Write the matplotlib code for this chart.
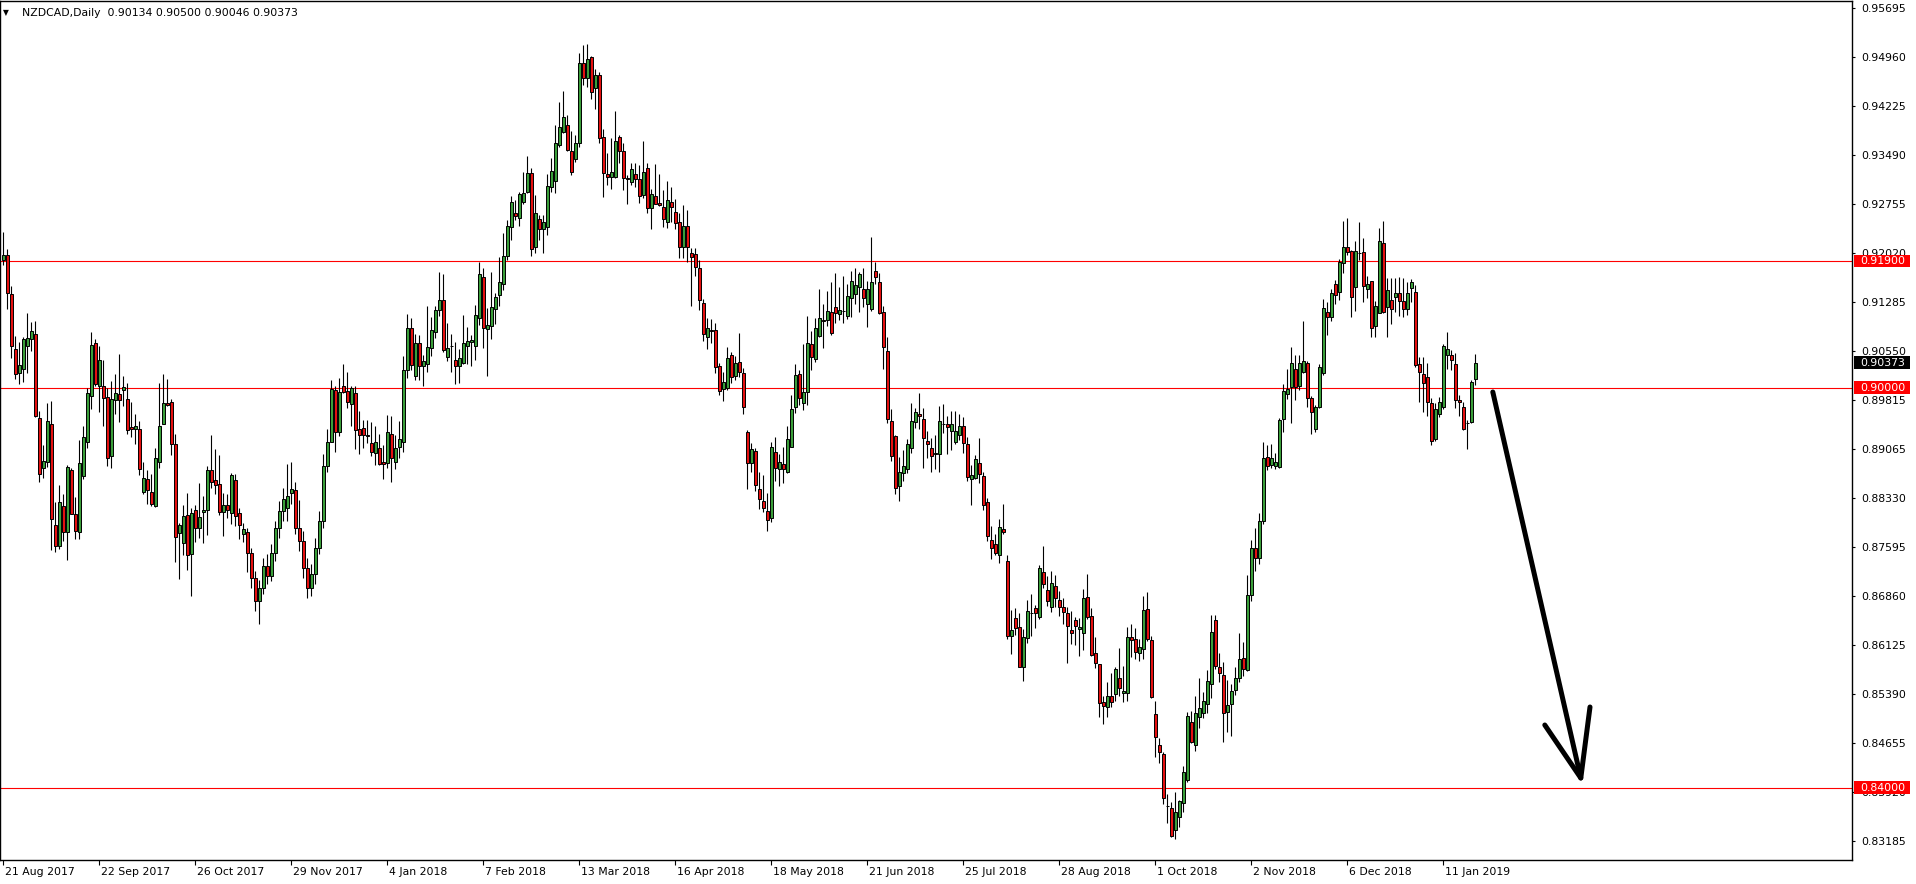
import matplotlib
matplotlib.use("Agg")
import matplotlib.pyplot as plt
import matplotlib.transforms as mtransforms
from matplotlib.patches import Rectangle
import numpy as np

# NZDCAD daily candles, 21 Aug 2017 .. 24 Jan 2019
opens = [
    0.91915, 0.91990, 0.91405, 0.90575, 0.90215, 0.90275, 0.90630, 0.90725, 0.90800, 0.89540,
    0.88790, 0.88880, 0.89460, 0.87940, 0.87630, 0.88220, 0.87840, 0.88760, 0.88100, 0.87840,
    0.88670, 0.89180, 0.89880, 0.90670, 0.90020, 0.90020, 0.89860, 0.88980, 0.89810, 0.89910,
    0.89970, 0.89830, 0.89410, 0.89380, 0.89380, 0.88440, 0.88630, 0.88440, 0.88220, 0.88890,
    0.89460, 0.89770, 0.89780, 0.89150, 0.87820, 0.87670, 0.88090, 0.87500, 0.88170, 0.87890,
    0.88130, 0.88170, 0.88770, 0.88620, 0.88550, 0.88130, 0.88240, 0.88120, 0.88620, 0.88120,
    0.87810, 0.87840, 0.87520, 0.87150, 0.86800, 0.87000, 0.87320, 0.87180, 0.87520, 0.87900,
    0.88150, 0.88200, 0.88420, 0.88460, 0.87900, 0.87700, 0.87300, 0.87000, 0.87200, 0.87600,
    0.88000, 0.88820, 0.89190, 0.89970, 0.89330, 0.90030, 0.89950, 0.89760, 0.89920, 0.89380,
    0.89390, 0.89290, 0.89170, 0.89020, 0.89090, 0.88880, 0.88870, 0.89300, 0.88880, 0.89110,
    0.89190, 0.90270, 0.90890, 0.90180, 0.90670, 0.90320, 0.90350, 0.90590, 0.90830, 0.91170,
    0.91320, 0.90460, 0.90630, 0.90420, 0.90320, 0.90370, 0.90620, 0.90680, 0.90620, 0.91040,
    0.91660, 0.90880, 0.90930, 0.91180, 0.91390, 0.91550, 0.91970, 0.92410, 0.92620, 0.92550,
    0.92780, 0.92930, 0.93220, 0.92115, 0.92535, 0.92380, 0.92415, 0.93015, 0.93105, 0.93640,
    0.93840, 0.93935, 0.93545, 0.93425, 0.93665, 0.94865, 0.94650, 0.94965, 0.94490, 0.94685,
    0.93755, 0.93205, 0.93155, 0.93165, 0.93755, 0.93555, 0.93140, 0.93080, 0.93200, 0.93135,
    0.92890, 0.93290, 0.92690, 0.92875, 0.92775, 0.92705, 0.92490, 0.92790, 0.92630, 0.92490,
    0.92105, 0.92430, 0.92015, 0.92000, 0.91790, 0.91265, 0.90755, 0.90865, 0.90865, 0.90325,
    0.89975, 0.89990, 0.90490, 0.90180, 0.90380, 0.90215, 0.89330, 0.88875, 0.89050, 0.88475,
    0.88300, 0.88150, 0.88040, 0.89030, 0.88775, 0.88850, 0.88740, 0.89115, 0.89705, 0.90200,
    0.89765, 0.89940, 0.90655, 0.90425, 0.90775, 0.91015, 0.91015, 0.91130, 0.91205, 0.91100,
    0.91155, 0.91080, 0.91350, 0.91400, 0.91515, 0.91475, 0.91250, 0.91185, 0.91755, 0.91590,
    0.91140, 0.90555, 0.89505, 0.89280, 0.88530, 0.88715, 0.88775, 0.89090, 0.89480, 0.89605,
    0.89525, 0.89205, 0.89100, 0.89000, 0.89000, 0.89450, 0.89450, 0.89355, 0.89190, 0.89290,
    0.89425, 0.89150, 0.88625, 0.88650, 0.88865, 0.88675, 0.88280, 0.87715, 0.87655, 0.87490,
    0.87880, 0.87400, 0.86280, 0.86540, 0.86410, 0.85815, 0.86240, 0.86625, 0.86690, 0.86565,
    0.87230, 0.86965, 0.86715, 0.87025, 0.86815, 0.86705, 0.86615, 0.86365, 0.86520, 0.86375,
    0.86325, 0.86855, 0.86575, 0.86015, 0.85850, 0.85280, 0.85205, 0.85375, 0.85405, 0.85640,
    0.85415, 0.85415, 0.86255, 0.86230, 0.86025, 0.86080, 0.86675, 0.86215, 0.85100, 0.84640,
    0.84500, 0.83725, 0.83690, 0.83365, 0.83555, 0.83765, 0.84115, 0.84980, 0.84640, 0.85065,
    0.85115, 0.85255, 0.85550, 0.86515, 0.85805, 0.85690, 0.85130, 0.85255, 0.85465, 0.85640,
    0.85940, 0.85765, 0.86890, 0.87600, 0.87450, 0.88000, 0.88960, 0.88840, 0.88830, 0.88815,
    0.89525, 0.89900, 0.90015, 0.90275, 0.90030, 0.90240, 0.90365, 0.89850, 0.89375, 0.89715,
    0.90225, 0.91130, 0.91065, 0.91555, 0.91430, 0.91875, 0.92105, 0.92050, 0.91515, 0.92015,
    0.92030, 0.91475, 0.91600, 0.90930, 0.91115, 0.92165, 0.91205, 0.91315, 0.91365, 0.91415,
    0.91300, 0.91175, 0.91490, 0.91430, 0.90350, 0.90205, 0.90165, 0.89775, 0.89225, 0.89605,
    0.89705, 0.90490, 0.90490, 0.90350, 0.89815, 0.89715, 0.89475, 0.89480, 0.90134,
]
highs = [
    0.92340, 0.92075, 0.91530, 0.90775, 0.90690, 0.90765, 0.91115, 0.90985, 0.91000, 0.89650,
    0.89140, 0.89770, 0.89800, 0.88290, 0.88540, 0.88410, 0.88840, 0.88800, 0.88360, 0.89210,
    0.89430, 0.90000, 0.90840, 0.90730, 0.90620, 0.90420, 0.89990, 0.90100, 0.90210, 0.90510,
    0.90180, 0.90070, 0.89780, 0.89610, 0.89500, 0.88890, 0.88760, 0.88710, 0.89090, 0.90070,
    0.90210, 0.90130, 0.89830, 0.89300, 0.87970, 0.88240, 0.88420, 0.88190, 0.88240, 0.88570,
    0.88370, 0.88830, 0.89290, 0.89080, 0.88990, 0.88420, 0.88410, 0.88720, 0.88710, 0.88190,
    0.87970, 0.87890, 0.87600, 0.87250, 0.87120, 0.87450, 0.87500, 0.87650, 0.88000, 0.88300,
    0.88500, 0.88860, 0.88880, 0.88590, 0.88320, 0.87850, 0.87450, 0.87350, 0.87750, 0.88150,
    0.89010, 0.89380, 0.90120, 0.90030, 0.90140, 0.90350, 0.90240, 0.90030, 0.90030, 0.89650,
    0.89520, 0.89510, 0.89480, 0.89420, 0.89310, 0.89140, 0.89590, 0.89580, 0.89290, 0.89500,
    0.90480, 0.91110, 0.91040, 0.90810, 0.90790, 0.90490, 0.91230, 0.91060, 0.91230, 0.91730,
    0.91700, 0.90970, 0.90810, 0.90680, 0.90580, 0.91090, 0.90910, 0.90790, 0.91240, 0.91890,
    0.91790, 0.91200, 0.91730, 0.91420, 0.91960, 0.92320, 0.92520, 0.92870, 0.92820, 0.92930,
    0.93240, 0.93480, 0.93290, 0.92890, 0.92590, 0.92590, 0.93205, 0.93440, 0.93940, 0.94290,
    0.94450, 0.94090, 0.93850, 0.93790, 0.95025, 0.95140, 0.95155, 0.94975, 0.94780, 0.94740,
    0.93880, 0.93515, 0.93740, 0.94150, 0.93790, 0.93665, 0.93190, 0.93365, 0.93365, 0.93340,
    0.93700, 0.93375, 0.92975, 0.93355, 0.93205, 0.92965, 0.93100, 0.93005, 0.92830, 0.92615,
    0.92740, 0.92665, 0.92090, 0.92090, 0.91915, 0.91325, 0.91050, 0.91025, 0.90965, 0.90365,
    0.90240, 0.90615, 0.90540, 0.90475, 0.90815, 0.90290, 0.89365, 0.89165, 0.89090, 0.88730,
    0.88690, 0.88415, 0.89180, 0.89255, 0.89000, 0.89105, 0.89425, 0.89890, 0.90355, 0.90265,
    0.90655, 0.91075, 0.90850, 0.91050, 0.91480, 0.91255, 0.91450, 0.91580, 0.91725, 0.91505,
    0.91675, 0.91550, 0.91750, 0.91790, 0.91740, 0.91790, 0.91600, 0.92255, 0.91890, 0.91715,
    0.91230, 0.90755, 0.89675, 0.89290, 0.88955, 0.89065, 0.89230, 0.89775, 0.89700, 0.89925,
    0.89690, 0.89350, 0.89250, 0.89290, 0.89730, 0.89755, 0.89575, 0.89650, 0.89650, 0.89605,
    0.89565, 0.89255, 0.88840, 0.88990, 0.89240, 0.88730, 0.88340, 0.87930, 0.87800, 0.88030,
    0.88255, 0.87490, 0.86665, 0.86690, 0.86625, 0.86375, 0.86815, 0.86900, 0.86740, 0.87340,
    0.87625, 0.87180, 0.87250, 0.87190, 0.86950, 0.86840, 0.86705, 0.86655, 0.86565, 0.86540,
    0.86975, 0.87200, 0.86690, 0.86255, 0.85850, 0.85380, 0.85590, 0.85715, 0.85815, 0.86090,
    0.85825, 0.86405, 0.86450, 0.86390, 0.86225, 0.86880, 0.86930, 0.86275, 0.85300, 0.84740,
    0.84540, 0.83905, 0.83790, 0.83930, 0.83815, 0.84330, 0.85140, 0.85150, 0.85375, 0.85640,
    0.85440, 0.85765, 0.86590, 0.86590, 0.86025, 0.85890, 0.85615, 0.85550, 0.85815, 0.86315,
    0.86190, 0.87190, 0.87720, 0.87900, 0.88120, 0.89180, 0.89140, 0.89155, 0.89015, 0.89540,
    0.90050, 0.90275, 0.90615, 0.90490, 0.90490, 0.91000, 0.90405, 0.89875, 0.89740, 0.90350,
    0.91330, 0.91280, 0.91475, 0.91615, 0.91925, 0.92500, 0.92540, 0.92065, 0.92205, 0.92490,
    0.92240, 0.91675, 0.91600, 0.91300, 0.92390, 0.92500, 0.91640, 0.91640, 0.91650, 0.91655,
    0.91640, 0.91590, 0.91630, 0.91540, 0.90465, 0.90465, 0.90365, 0.89840, 0.89765, 0.89865,
    0.90655, 0.90830, 0.90565, 0.90515, 0.89890, 0.89790, 0.89515, 0.90115, 0.90500,
]
lows = [
    0.91840, 0.91175, 0.90440, 0.90130, 0.90050, 0.90090, 0.90215, 0.90555, 0.89560, 0.88590,
    0.88640, 0.88810, 0.87560, 0.87540, 0.87580, 0.87700, 0.87410, 0.88100, 0.87730, 0.87730,
    0.88630, 0.89090, 0.89680, 0.90030, 0.89630, 0.89430, 0.88830, 0.88790, 0.89610, 0.89490,
    0.89720, 0.89310, 0.89260, 0.89150, 0.88690, 0.88400, 0.88260, 0.88230, 0.88210, 0.88790,
    0.89450, 0.89720, 0.88990, 0.87390, 0.87130, 0.87490, 0.87270, 0.86870, 0.87690, 0.87740,
    0.87670, 0.87790, 0.88490, 0.88410, 0.88090, 0.87780, 0.88040, 0.87960, 0.87930, 0.87730,
    0.87680, 0.87240, 0.87000, 0.86650, 0.86450, 0.86900, 0.87050, 0.87100, 0.87400, 0.87750,
    0.88000, 0.88000, 0.88250, 0.87800, 0.87550, 0.87150, 0.86850, 0.86880, 0.87050, 0.87500,
    0.87900, 0.88740, 0.89190, 0.89030, 0.89270, 0.89920, 0.89690, 0.89430, 0.89080, 0.89000,
    0.89090, 0.89170, 0.88980, 0.88840, 0.88840, 0.88630, 0.88790, 0.88580, 0.88780, 0.88950,
    0.89040, 0.90140, 0.90270, 0.90120, 0.90110, 0.90020, 0.90230, 0.90470, 0.90750, 0.91080,
    0.90530, 0.90400, 0.90240, 0.90060, 0.90070, 0.90360, 0.90360, 0.90320, 0.90420, 0.90940,
    0.90590, 0.90170, 0.90730, 0.90960, 0.91230, 0.91470, 0.91920, 0.92220, 0.92510, 0.92430,
    0.92760, 0.92920, 0.91980, 0.92025, 0.92215, 0.92025, 0.92290, 0.92935, 0.92925, 0.93615,
    0.93825, 0.93555, 0.93190, 0.93385, 0.93615, 0.94540, 0.94505, 0.94330, 0.94180, 0.93675,
    0.92865, 0.93040, 0.92975, 0.93140, 0.93365, 0.92965, 0.92755, 0.93040, 0.93015, 0.92775,
    0.92840, 0.92625, 0.92375, 0.92750, 0.92725, 0.92415, 0.92400, 0.92490, 0.92375, 0.91940,
    0.91940, 0.91880, 0.91230, 0.91675, 0.91165, 0.90700, 0.90580, 0.90665, 0.90215, 0.89890,
    0.89800, 0.89965, 0.90065, 0.90115, 0.90155, 0.89605, 0.88475, 0.88740, 0.88455, 0.88180,
    0.88140, 0.87855, 0.87990, 0.88605, 0.88520, 0.88575, 0.88715, 0.89115, 0.89625, 0.89740,
    0.89665, 0.89740, 0.90265, 0.90390, 0.90765, 0.90600, 0.90925, 0.90790, 0.90965, 0.91015,
    0.90975, 0.91030, 0.91065, 0.91255, 0.91130, 0.91215, 0.90915, 0.91155, 0.91555, 0.91105,
    0.90280, 0.89475, 0.88905, 0.88405, 0.88300, 0.88605, 0.88725, 0.89025, 0.89390, 0.89375,
    0.88800, 0.88940, 0.88740, 0.88775, 0.88740, 0.89315, 0.89000, 0.89060, 0.89155, 0.89215,
    0.89025, 0.88605, 0.88240, 0.88625, 0.88565, 0.88165, 0.87705, 0.87425, 0.87490, 0.87375,
    0.87805, 0.86230, 0.86005, 0.86290, 0.85815, 0.85605, 0.86165, 0.86275, 0.86400, 0.86530,
    0.87000, 0.86725, 0.86630, 0.86705, 0.86570, 0.86455, 0.85875, 0.86155, 0.86140, 0.85975,
    0.86065, 0.86525, 0.85975, 0.85790, 0.85065, 0.84950, 0.85065, 0.85215, 0.85305, 0.85380,
    0.85290, 0.85300, 0.85955, 0.85930, 0.85900, 0.85930, 0.86200, 0.85350, 0.84465, 0.84365,
    0.83755, 0.83475, 0.83265, 0.83225, 0.83405, 0.83640, 0.84090, 0.84665, 0.84555, 0.84900,
    0.85050, 0.85125, 0.85350, 0.85775, 0.85590, 0.84680, 0.84830, 0.84780, 0.85390, 0.85590,
    0.85670, 0.85755, 0.86800, 0.87250, 0.87350, 0.87950, 0.88765, 0.88790, 0.88775, 0.88800,
    0.89340, 0.89825, 0.89475, 0.89815, 0.89965, 0.90225, 0.89715, 0.89300, 0.89330, 0.89690,
    0.90190, 0.90790, 0.91000, 0.91250, 0.91315, 0.91725, 0.91990, 0.91065, 0.91150, 0.91915,
    0.91280, 0.91340, 0.90755, 0.90755, 0.91115, 0.91125, 0.90755, 0.90950, 0.91140, 0.91075,
    0.91065, 0.91090, 0.91290, 0.90315, 0.89790, 0.89640, 0.89575, 0.89140, 0.89205, 0.89555,
    0.89680, 0.90275, 0.90265, 0.89690, 0.89575, 0.89365, 0.89075, 0.89465, 0.90046,
]
closes = [
    0.91990, 0.91415, 0.90630, 0.90200, 0.90340, 0.90730, 0.90740, 0.90850, 0.89580, 0.88700,
    0.88900, 0.89500, 0.88030, 0.87630, 0.88280, 0.87840, 0.88810, 0.88110, 0.87850, 0.88870,
    0.89260, 0.89920, 0.90640, 0.90060, 0.90420, 0.89840, 0.88940, 0.89830, 0.89920, 0.89810,
    0.90010, 0.89360, 0.89380, 0.89420, 0.88780, 0.88640, 0.88460, 0.88260, 0.88940, 0.89420,
    0.89770, 0.89740, 0.89150, 0.87760, 0.87940, 0.88080, 0.87490, 0.88120, 0.87890, 0.88060,
    0.88170, 0.88770, 0.88590, 0.88540, 0.88130, 0.88240, 0.88170, 0.88690, 0.88070, 0.87940,
    0.87880, 0.87520, 0.87150, 0.86800, 0.87000, 0.87320, 0.87180, 0.87520, 0.87900, 0.88150,
    0.88330, 0.88370, 0.88480, 0.87900, 0.87700, 0.87300, 0.87000, 0.87200, 0.87600, 0.88000,
    0.88830, 0.89180, 0.89980, 0.89330, 0.89930, 0.89940, 0.89780, 0.89990, 0.89370, 0.89290,
    0.89290, 0.89270, 0.89030, 0.89190, 0.88860, 0.88860, 0.89330, 0.88950, 0.89090, 0.89230,
    0.90270, 0.90890, 0.90340, 0.90670, 0.90330, 0.90400, 0.90610, 0.90870, 0.91170, 0.91320,
    0.90570, 0.90590, 0.90630, 0.90320, 0.90450, 0.90670, 0.90700, 0.90720, 0.91090, 0.91700,
    0.90890, 0.90940, 0.91210, 0.91360, 0.91590, 0.91970, 0.92430, 0.92780, 0.92570, 0.92900,
    0.92920, 0.93220, 0.92080, 0.92615, 0.92385, 0.92490, 0.93025, 0.93245, 0.93665, 0.93905,
    0.94055, 0.93565, 0.93240, 0.93665, 0.94865, 0.94640, 0.94925, 0.94440, 0.94690, 0.93750,
    0.93215, 0.93165, 0.93240, 0.93700, 0.93555, 0.93140, 0.93125, 0.93275, 0.93135, 0.92880,
    0.93230, 0.92690, 0.92900, 0.92750, 0.92745, 0.92525, 0.92815, 0.92705, 0.92475, 0.92115,
    0.92430, 0.92115, 0.91965, 0.91815, 0.91315, 0.90800, 0.90890, 0.90850, 0.90315, 0.89955,
    0.90090, 0.90440, 0.90155, 0.90365, 0.90240, 0.89715, 0.88875, 0.89075, 0.88540, 0.88325,
    0.88200, 0.88015, 0.89105, 0.88790, 0.88880, 0.88775, 0.89225, 0.89675, 0.90185, 0.89840,
    0.89940, 0.90665, 0.90465, 0.90890, 0.91050, 0.91005, 0.91155, 0.90825, 0.91125, 0.91165,
    0.91155, 0.91380, 0.91605, 0.91535, 0.91700, 0.91340, 0.91475, 0.91580, 0.91665, 0.91125,
    0.90615, 0.89525, 0.88980, 0.88500, 0.88730, 0.88830, 0.89150, 0.89500, 0.89630, 0.89580,
    0.89240, 0.89150, 0.88980, 0.89015, 0.89500, 0.89450, 0.89415, 0.89455, 0.89350, 0.89425,
    0.89175, 0.88665, 0.88690, 0.88925, 0.88700, 0.88240, 0.87780, 0.87590, 0.87525, 0.87905,
    0.87840, 0.86280, 0.86365, 0.86400, 0.85815, 0.86255, 0.86650, 0.86625, 0.86625, 0.87290,
    0.87050, 0.86805, 0.87065, 0.86840, 0.86715, 0.86640, 0.86430, 0.86315, 0.86430, 0.86415,
    0.86840, 0.86565, 0.85990, 0.85865, 0.85265, 0.85230, 0.85380, 0.85280, 0.85775, 0.85490,
    0.85450, 0.86255, 0.86215, 0.86040, 0.86105, 0.86665, 0.86225, 0.85365, 0.84765, 0.84540,
    0.83840, 0.83725, 0.83275, 0.83640, 0.83800, 0.84230, 0.85075, 0.84690, 0.85115, 0.85190,
    0.85300, 0.85600, 0.86330, 0.85830, 0.85725, 0.85125, 0.85240, 0.85450, 0.85640, 0.85925,
    0.85775, 0.86890, 0.87600, 0.87450, 0.88000, 0.88940, 0.88830, 0.88940, 0.88880, 0.89515,
    0.89955, 0.89975, 0.90365, 0.90015, 0.90365, 0.90400, 0.89840, 0.89630, 0.89715, 0.90305,
    0.91190, 0.91065, 0.91415, 0.91390, 0.91890, 0.92105, 0.92030, 0.91365, 0.92055, 0.92015,
    0.91530, 0.91550, 0.90890, 0.91225, 0.92200, 0.91140, 0.91465, 0.91175, 0.91415, 0.91305,
    0.91175, 0.91415, 0.91580, 0.90340, 0.90230, 0.90065, 0.89790, 0.89205, 0.89675, 0.89780,
    0.90625, 0.90575, 0.90415, 0.89815, 0.89780, 0.89375, 0.89475, 0.90090, 0.90373,
]

date_labels = ["21 Aug 2017", "22 Sep 2017", "26 Oct 2017", "29 Nov 2017", "4 Jan 2018",
               "7 Feb 2018", "13 Mar 2018", "16 Apr 2018", "18 May 2018", "21 Jun 2018",
               "25 Jul 2018", "28 Aug 2018", "1 Oct 2018", "2 Nov 2018", "6 Dec 2018",
               "11 Jan 2019"]
bars_per_label = 24

price_labels = ["0.95695", "0.94960", "0.94225", "0.93490", "0.92755", "0.92020",
                "0.91285", "0.90550", "0.89815", "0.89065", "0.88330", "0.87595",
                "0.86860", "0.86125", "0.85390", "0.84655", "0.83920", "0.83185"]
price_step = 0.00735

levels = [0.91900, 0.90000, 0.84000]
last_price = 0.90373
header = "NZDCAD,Daily  0.90134 0.90500 0.90046 0.90373"

# hand-drawn arrow: shaft start, tip, two barbs (bar index, price)
arrow_x = [372.4, 394.4, 385.4, 396.7]
arrow_y = [0.89935, 0.84145, 0.84940, 0.85210]

W, H = 1916, 884
fig = plt.figure(figsize=(W / 100, H / 100), dpi=100)
fig.patch.set_facecolor("white")
ax = fig.add_axes([0, 24 / H, 1852 / W, 859 / H])
ax.set_facecolor("white")

o = np.array(opens)
c = np.array(closes)
hi = np.array(highs)
lo = np.array(lows)
x = np.arange(len(o))
bull = c >= o

ax.vlines(x, lo, hi, color="black", linewidth=0.8, zorder=2)
body_bottom = np.minimum(o, c)
body_h = np.abs(c - o)
ax.bar(x, body_h, bottom=body_bottom, width=0.78,
       color=np.where(bull, "#3a9e3a", "#e41010"),
       edgecolor="black", linewidth=0.7, zorder=3)

for lv in levels:
    ax.axhline(lv, color="#ff0000", linewidth=0.8, zorder=1)

# arrow
ax.plot(arrow_x[:2], arrow_y[:2], color="black", lw=3.6, solid_capstyle="round", zorder=4)
ax.plot([arrow_x[2], arrow_x[1], arrow_x[3]], [arrow_y[2], arrow_y[1], arrow_y[3]],
        color="black", lw=3.6, solid_capstyle="round", solid_joinstyle="round", zorder=4)

ax.set_xlim(-0.8, 462.2)
ax.set_ylim(0.82915, 0.9580)

fs = 7.8
# y axis on the right
ytick_pos = [0.95695 - k * price_step for k in range(len(price_labels))]
ax.yaxis.tick_right()
ax.set_yticks(ytick_pos)
ax.set_yticklabels(price_labels)
ax.tick_params(axis="y", direction="out", length=2.5, width=0.8, pad=3.8,
               labelsize=fs, colors="black")

# x axis dates
xtick_pos = [k * bars_per_label for k in range(len(date_labels))]
ax.set_xticks(xtick_pos)
ax.set_xticklabels(date_labels)
ax.tick_params(axis="x", direction="out", length=3.5, width=0.8, pad=1.5,
               labelsize=fs, colors="black")
shift = mtransforms.ScaledTranslation(2 / 100, 0, fig.dpi_scale_trans)
for lab in ax.get_xticklabels():
    lab.set_horizontalalignment("left")
    lab.set_transform(lab.get_transform() + shift)

for sp in ax.spines.values():
    sp.set_linewidth(1.0)
    sp.set_color("black")

# price tags on the right axis
trans = mtransforms.blended_transform_factory(ax.transAxes, ax.transData)


def price_tag(price, text, fc):
    ax.add_patch(Rectangle((1.0011, price - 0.00097), 56 / 1852, 0.00194,
                           transform=trans, facecolor=fc, edgecolor="none",
                           clip_on=False, zorder=10))
    ax.text(1.0043, price, text, transform=trans, color="white", fontsize=fs,
            va="center", ha="left", clip_on=False, zorder=11)


for lv in levels:
    price_tag(lv, f"{lv:.5f}", "#ff0000")
price_tag(last_price, f"{last_price:.5f}", "black")

# header
fig.text(3 / W, 1 - 13 / H, "\u25bc", fontsize=5.5, va="center", ha="left")
fig.text(22 / W, 1 - 13 / H, header, fontsize=fs, va="center", ha="left")

fig.savefig("out.png", dpi=100)
